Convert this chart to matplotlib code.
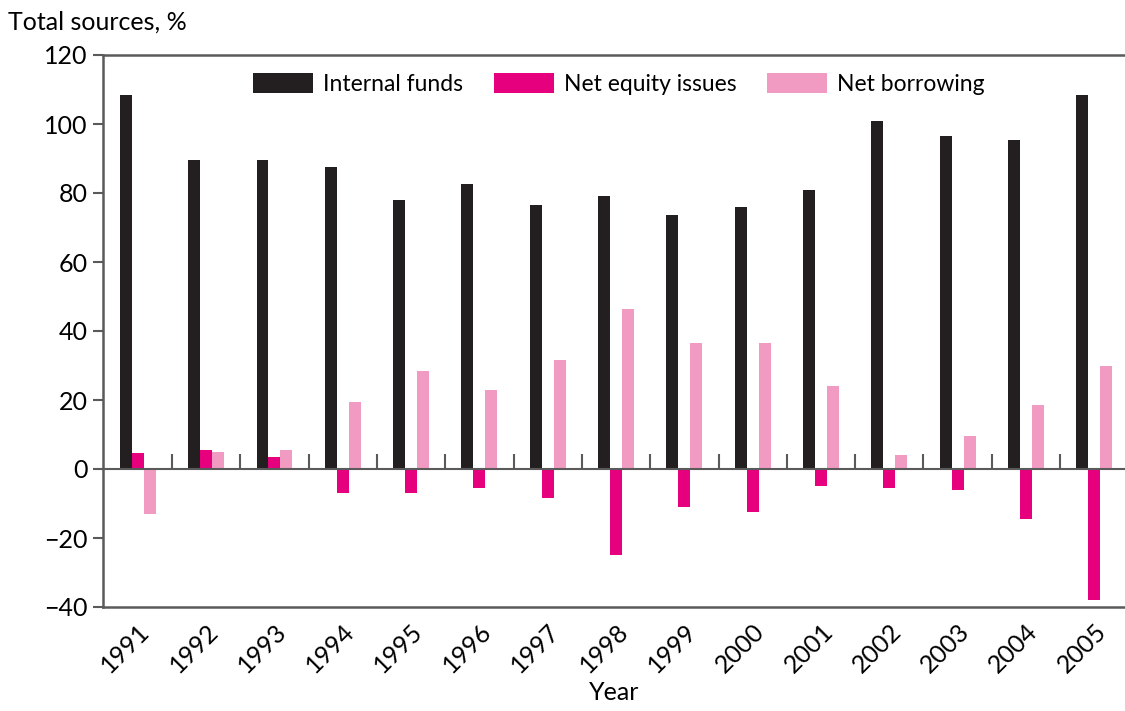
import numpy as np
import matplotlib
matplotlib.use("Agg")
import matplotlib.pyplot as plt

plt.rcParams["font.family"] = ["Lato", "DejaVu Sans"]

years = ["1991", "1992", "1993", "1994", "1995", "1996", "1997", "1998",
         "1999", "2000", "2001", "2002", "2003", "2004", "2005"]
internal_funds = [108.5, 89.5, 89.5, 87.5, 78, 82.5, 76.5, 79, 73.5, 76, 81, 101, 96.5, 95.5, 108.5]
net_equity = [4.5, 5.5, 3.5, -7, -7, -5.5, -8.5, -25, -11, -12.5, -5, -5.5, -6, -14.5, -38]
net_borrowing = [-13, 5, 5.5, 19.5, 28.5, 23, 31.5, 46.5, 36.5, 36.5, 24, 4, 9.5, 18.5, 30]

c_black = "#231f20"
c_mag = "#e6007e"
c_light = "#f29bc2"
grey = "#5a5a5a"

fig = plt.figure(figsize=(11.25, 7.11), dpi=100)
ax = fig.add_axes([103 / 1125, 1 - 607 / 711, 1 - 103 / 1125, (607 - 55) / 711])

x = np.arange(len(years))
w = 0.175
ax.bar(x - w, internal_funds, w, color=c_black, label="Internal funds")
ax.bar(x, net_equity, w, color=c_mag, label="Net equity issues")
ax.bar(x + w, net_borrowing, w, color=c_light, label="Net borrowing")

ax.axhline(0, color=grey, lw=1.5, zorder=3)
# small separators between year groups
ax.vlines(x[:-1] + 0.5, 0, 4.4, color=grey, lw=1.5)

ax.set_xlim(-0.51, 14.45)
ax.set_ylim(-40, 120)
ax.set_yticks(range(-40, 121, 20))
ax.set_yticklabels(["\u221240", "\u221220", "0", "20", "40", "60", "80", "100", "120"])
ax.set_xticks(x)
ax.set_xticklabels(years, rotation=45, ha="right", rotation_mode="anchor")
ax.tick_params(axis="x", length=0, pad=9, labelsize=18)
ax.tick_params(axis="y", length=7, width=1.5, color=grey, labelsize=18, pad=4)

for s in ["left", "top", "bottom"]:
    ax.spines[s].set_color(grey)
    ax.spines[s].set_linewidth(1.8)
ax.spines["right"].set_visible(False)

ax.set_xlabel("Year", fontsize=18, labelpad=3)
fig.text(8 / 1125, 1 - 22 / 711, "Total sources, %", fontsize=18, va="center", ha="left")

ax.legend(loc="upper center", bbox_to_anchor=(0.505, 1.005), ncol=3, frameon=False,
          fontsize=16.5, handlelength=2.6, handleheight=0.95, columnspacing=1.35,
          handletextpad=0.45)

fig.savefig("out.png", dpi=100)
